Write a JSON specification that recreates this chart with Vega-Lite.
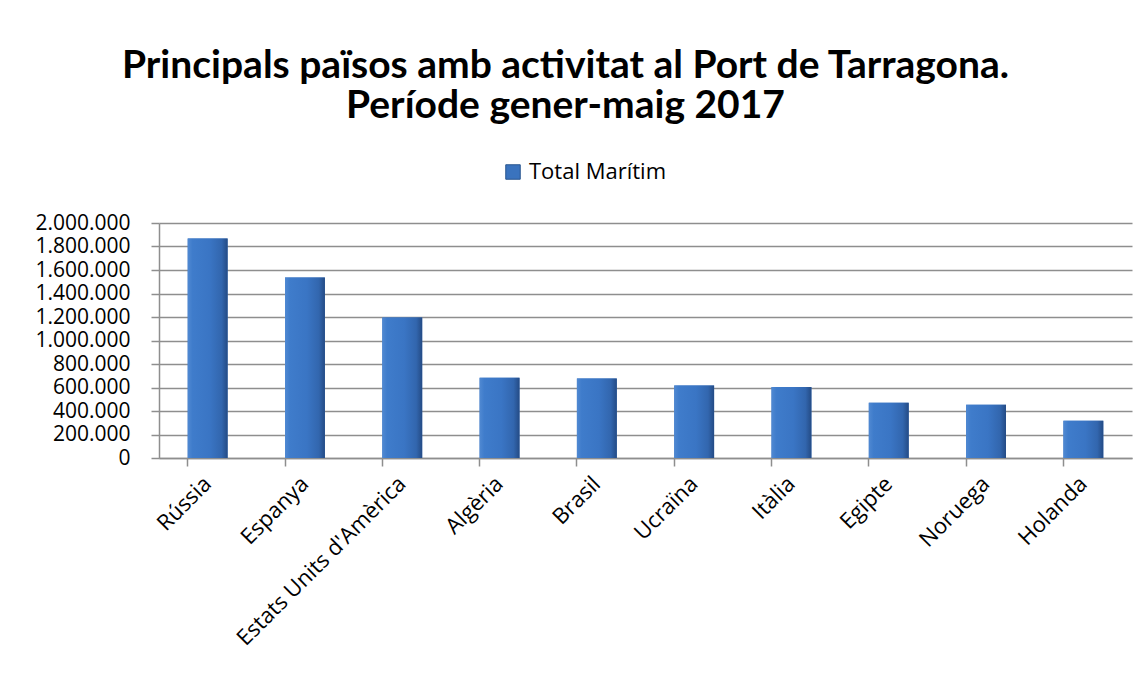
{
  "$schema": "https://vega.github.io/schema/vega-lite/v6.json",
  "autosize": {"type": "none"},
  "padding": {"left": 159, "top": 223, "right": 15, "bottom": 219},
  "width": 973,
  "height": 235,
  "background": "white",
  "config": {
    "locale": {"number": {"decimal": ",", "thousands": ".", "grouping": [3], "currency": ["", " €"]}},
    "font": "Open Sans",
    "view": {"stroke": null},
    "axis": {"labelFont": "Open Sans", "labelFontSize": 22, "labelColor": "#000000", "labelOverlap": false, "labelLimit": 0}
  },
  "title": {
    "text": ["Principals països amb activitat al Port de Tarragona.", "Període gener-maig 2017"],
    "fontSize": 39,
    "fontWeight": "bold",
    "font": "Lato",
    "color": "#000000",
    "anchor": "middle",
    "dx": -80,
    "lineHeight": 40,
    "offset": 35
  },
  "data": {
    "values": [
      {"pais": "Rússia", "valor": 1869000, "serie": "Total Marítim"},
      {"pais": "Espanya", "valor": 1536000, "serie": "Total Marítim"},
      {"pais": "Estats Units d'Amèrica", "valor": 1195000, "serie": "Total Marítim"},
      {"pais": "Algèria", "valor": 684000, "serie": "Total Marítim"},
      {"pais": "Brasil", "valor": 676000, "serie": "Total Marítim"},
      {"pais": "Ucraïna", "valor": 616000, "serie": "Total Marítim"},
      {"pais": "Itàlia", "valor": 604000, "serie": "Total Marítim"},
      {"pais": "Egipte", "valor": 471000, "serie": "Total Marítim"},
      {"pais": "Noruega", "valor": 454000, "serie": "Total Marítim"},
      {"pais": "Holanda", "valor": 317000, "serie": "Total Marítim"}
    ]
  },
  "encoding": {
    "y": {
      "field": "valor", "type": "quantitative",
      "scale": {"domain": [0, 2000000], "nice": false},
      "axis": {"title": null, "values": [0, 200000, 400000, 600000, 800000, 1000000, 1200000, 1400000, 1600000, 1800000, 2000000], "format": ",d", "gridColor": "#8e8e8e", "gridWidth": 1.5, "domainColor": "#8e8e8e", "domainWidth": 1.5, "tickColor": "#8e8e8e", "tickSize": 8, "tickWidth": 1.5, "labelPadding": 21, "labelOverlap": false, "labelFontSize": 21}
    }
  },
  "layer": [
    {
      "mark": {"type": "bar"},
      "encoding": {
        "x": {
          "field": "pais", "type": "nominal", "sort": null,
          "scale": {"paddingInner": 0.59, "paddingOuter": 0.295},
          "axis": {"title": null, "labelAngle": -45, "labelAlign": "right", "labelBaseline": "middle", "ticks": false, "domain": false, "labelPadding": 22}
        },
        "color": {
          "field": "serie", "type": "nominal",
          "scale": {"range": ["#3a73be"]},
          "legend": {"title": null, "orient": "none", "legendX": 343, "legendY": -62, "symbolType": "square", "symbolSize": 210, "labelFontSize": 22, "labelFont": "Open Sans", "labelColor": "#000000", "symbolStrokeColor": "#2a568f", "symbolStrokeWidth": 1, "labelOffset": 5}
        }
      }
    },
    {
      "mark": {
        "type": "bar",
        "fill": {
          "gradient": "linear", "x1": 0, "y1": 0, "x2": 1, "y2": 0,
          "stops": [
            {"offset": 0, "color": "#5089d2"},
            {"offset": 0.12, "color": "#3f7ccb"},
            {"offset": 0.55, "color": "#3a75c4"},
            {"offset": 0.85, "color": "#3266ae"},
            {"offset": 1, "color": "#244b85"}
          ]
        }
      },
      "encoding": {
        "x": {
          "field": "pais", "type": "nominal", "sort": null,
          "axis": {"title": null, "labels": false, "bandPosition": 0, "ticks": true, "tickSize": 8, "tickColor": "#8e8e8e", "tickWidth": 1.5, "domainColor": "#8e8e8e", "domainWidth": 1.5, "orient": "bottom"}
        }
      }
    }
  ],
  "resolve": {"axis": {"x": "independent"}}
}
